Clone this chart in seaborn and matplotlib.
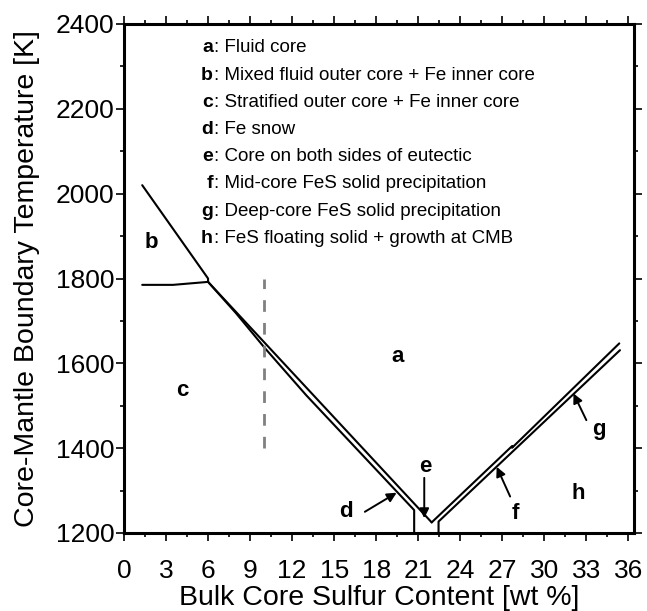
import matplotlib
matplotlib.use("Agg")
import matplotlib.pyplot as plt
import seaborn as sns
import pandas as pd

# ---- phase-boundary curves (wt % S, K) ----
fe_liquidus_hi_x = [1.3, 6.0, 6.0]
fe_liquidus_hi_t = [2020, 1800, 1792]

inner_core_x = [1.3, 3.5, 6.0]
inner_core_t = [1785, 1785, 1792]

fe_side_upper_x = [6.0, 21.96]
fe_side_upper_t = [1792, 1225]

fe_side_lower_x = [6.0, 8.0, 10.0, 13.0, 20.71, 20.71]
fe_side_lower_t = [1792, 1718, 1638, 1525, 1254, 1200]

fes_side_upper_x = [21.96, 27.7, 27.7, 35.35]
fes_side_upper_t = [1225, 1405, 1401, 1647]

fes_side_lower_x = [22.45, 22.45, 35.4]
fes_side_lower_t = [1200, 1227, 1631]

# reference composition marker
ref_x = [10, 10]
ref_t = [1400, 1800]

# regime letters and their positions
region_letters = ["a", "b", "c", "d", "e", "f", "g", "h"]
region_x = [19.5, 1.97, 4.19, 15.85, 21.48, 27.9, 33.9, 32.4]
region_t = [1615, 1886, 1537, 1250, 1356, 1247, 1443, 1294]

# arrows: (tail x, tail T) -> (tip x, tip T)
arrow_tail_x = [17.19, 21.43, 27.56, 33.0]
arrow_tail_t = [1250, 1330, 1286, 1466]
arrow_tip_x = [19.46, 21.43, 26.6, 32.08]
arrow_tip_t = [1295, 1235, 1356, 1529]

legend_desc = [
    "Fluid core",
    "Mixed fluid outer core + Fe inner core",
    "Stratified outer core + Fe inner core",
    "Fe snow",
    "Core on both sides of eutectic",
    "Mid-core FeS solid precipitation",
    "Deep-core FeS solid precipitation",
    "FeS floating solid + growth at CMB",
]

x_ticks = [0, 3, 6, 9, 12, 15, 18, 21, 24, 27, 30, 33, 36]
y_ticks = [1200, 1400, 1600, 1800, 2000, 2200, 2400]

sns.set_theme(style="ticks")
plt.rcParams["font.family"] = ["Liberation Sans", "DejaVu Sans"]
plt.rcParams.update({
    "text.color": "black",
    "axes.labelcolor": "black",
    "xtick.color": "black",
    "ytick.color": "black",
    "axes.edgecolor": "black",
})

fig = plt.figure(figsize=(6.47, 6.11), dpi=100)
ax = fig.add_axes([124 / 647, 1 - 533 / 611, 510 / 647, 509 / 611])

curves = [
    (fe_liquidus_hi_x, fe_liquidus_hi_t),
    (inner_core_x, inner_core_t),
    (fe_side_upper_x, fe_side_upper_t),
    (fe_side_lower_x, fe_side_lower_t),
    (fes_side_upper_x, fes_side_upper_t),
    (fes_side_lower_x, fes_side_lower_t),
]
for cx, ct in curves:
    df = pd.DataFrame({"S": cx, "T": ct})
    sns.lineplot(data=df, x="S", y="T", sort=False, estimator=None,
                 color="black", linewidth=1.5, ax=ax)

sns.lineplot(data=pd.DataFrame({"S": ref_x, "T": ref_t}), x="S", y="T",
             sort=False, estimator=None, color="#808080", linewidth=2.0,
             ax=ax)
ax.lines[-1].set_dashes((4.2, 4.0))

for lab, lx, lt in zip(region_letters, region_x, region_t):
    ax.text(lx, lt, lab, ha="center", va="center", fontsize=16,
            fontweight="bold")

for tx, tt, hx, ht in zip(arrow_tail_x, arrow_tail_t, arrow_tip_x, arrow_tip_t):
    ax.annotate("", xy=(hx, ht), xytext=(tx, tt),
                arrowprops=dict(arrowstyle="-|>", color="black", lw=1.4,
                                mutation_scale=14, shrinkA=0, shrinkB=0))

# key listing the regimes
y0 = (533 - 52.3) / 509
dy = 27.2 / 509
for i, (lab, desc) in enumerate(zip(region_letters, legend_desc)):
    yy = y0 - i * dy
    ax.text(0.1745, yy, lab, transform=ax.transAxes, ha="right",
            va="baseline", fontsize=14, fontweight="bold")
    ax.text(0.176, yy, ": " + desc, transform=ax.transAxes, ha="left",
            va="baseline", fontsize=13.5)

ax.set_xlim(0, 36.4)
ax.set_ylim(1200, 2400)
ax.set_xticks(x_ticks)
ax.set_yticks(y_ticks)
ax.set_xticks([v + 1.5 for v in x_ticks[:-1]], minor=True)
ax.set_yticks([v + 100 for v in y_ticks[:-1]], minor=True)

ax.tick_params(which="both", direction="out", top=True, right=True,
               labeltop=False, labelright=False, color="black", labelsize=19)
ax.tick_params(which="major", length=6, width=1.2)
ax.tick_params(which="minor", length=3, width=1.2)
ax.tick_params(axis="y", which="major", pad=1)
ax.tick_params(axis="x", which="major", pad=13)
for sp in ax.spines.values():
    sp.set_visible(True)
    sp.set_linewidth(2.2)
    sp.set_color("black")

ax.set_xlabel("Bulk Core Sulfur Content [wt %]", fontsize=20.5, labelpad=1)
ax.set_ylabel("Core-Mantle Boundary Temperature [K]", fontsize=20.5,
              labelpad=11)

fig.savefig("out.png", dpi=100)
